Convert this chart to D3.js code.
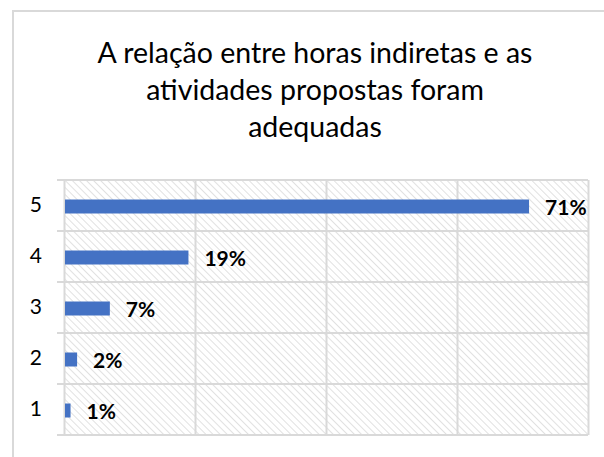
<!DOCTYPE html>
<html>
<head>
<meta charset="utf-8">
<script src="https://cdn.jsdelivr.net/npm/d3@7"></script>
<style>
  html, body { margin: 0; padding: 0; background: #fff; }
  svg { display: block; }
</style>
</head>
<body>
<svg id="chart" width="604" height="457"></svg>
<script>
// Answer scale (1 = lowest, 5 = highest) and share of responses
const categories = ["5", "4", "3", "2", "1"];
const shares = [0.71, 0.19, 0.07, 0.02, 0.01];
const valueLabels = ["71%", "19%", "7%", "2%", "1%"];
const gridTicks = [0, 0.2, 0.4, 0.6, 0.8];
const titleLines = ["A relação entre horas indiretas e as", "atividades propostas foram", "adequadas"];

const data = categories.map((c, i) => ({ cat: c, value: shares[i], label: valueLabels[i] }));

const svg = d3.select("#chart");
const W = 604, H = 457;
const margin = { top: 180, right: 16, bottom: 22, left: 64 };
const plotW = W - margin.left - margin.right;
const plotH = H - margin.top - margin.bottom;
const font = "Lato, 'Open Sans', sans-serif";

// diagonal hatch fill for the plot background
const defs = svg.append("defs");
const pat = defs.append("pattern")
  .attr("id", "hatch")
  .attr("patternUnits", "userSpaceOnUse")
  .attr("width", 5).attr("height", 5)
  .attr("patternTransform", "rotate(-45)");
pat.append("line")
  .attr("x1", 0).attr("y1", 0).attr("x2", 0).attr("y2", 5)
  .attr("stroke", "#d4d4d4").attr("stroke-width", 1.4);

// chart frame (top and left edges)
svg.append("line").attr("x1", 12).attr("y1", 11).attr("x2", W).attr("y2", 11)
  .attr("stroke", "#d9d9d9").attr("stroke-width", 2);
svg.append("line").attr("x1", 13).attr("y1", 10).attr("x2", 13).attr("y2", H)
  .attr("stroke", "#d9d9d9").attr("stroke-width", 2);

// title
const title = svg.append("text")
  .attr("text-anchor", "middle")
  .attr("font-family", font).attr("font-size", 28.5).attr("fill", "#000");
titleLines.forEach((t, i) => {
  title.append("tspan").attr("x", 315).attr("y", 63 + i * 37).text(t);
});

const g = svg.append("g").attr("transform", `translate(${margin.left},${margin.top})`);

const x = d3.scaleLinear().domain([0, 0.8]).range([0, plotW]);
const y = d3.scaleBand().domain(categories).range([0, plotH]).paddingInner(0).paddingOuter(0);

g.append("rect").attr("width", plotW).attr("height", plotH).attr("fill", "url(#hatch)");

// vertical gridlines
g.append("g")
  .call(d3.axisBottom(x).tickValues(gridTicks).tickSize(plotH).tickFormat(""))
  .call(a => a.select(".domain").remove())
  .call(a => a.selectAll("line").attr("stroke", "#d9d9d9").attr("stroke-width", 2));

// horizontal band separators with short outer ticks
const bounds = categories.map(c => y(c)).concat([plotH]);
g.append("g").selectAll("line").data(bounds).join("line")
  .attr("x1", -7).attr("x2", plotW)
  .attr("y1", d => d).attr("y2", d => d)
  .attr("stroke", "#d9d9d9").attr("stroke-width", 2);

// category axis labels
g.append("g")
  .call(d3.axisLeft(y).tickSize(0).tickPadding(22))
  .call(a => a.select(".domain").remove())
  .call(a => a.selectAll("text").attr("font-family", font).attr("font-size", 21).attr("fill", "#000"));

const barH = 14;
g.selectAll("rect.bar").data(data).join("rect")
  .attr("class", "bar")
  .attr("x", 1)
  .attr("y", d => y(d.cat) + y.bandwidth() / 2 - barH / 2 + 1)
  .attr("width", d => x(d.value) - 1)
  .attr("height", barH)
  .attr("fill", "#4472c4");

g.selectAll("text.val").data(data).join("text")
  .attr("class", "val")
  .attr("x", d => x(d.value) + 16)
  .attr("y", d => y(d.cat) + y.bandwidth() / 2 + 2)
  .attr("dy", "0.35em")
  .attr("font-family", font).attr("font-weight", "bold").attr("font-size", 21)
  .attr("fill", "#000")
  .text(d => d.label);
</script>
</body>
</html>
